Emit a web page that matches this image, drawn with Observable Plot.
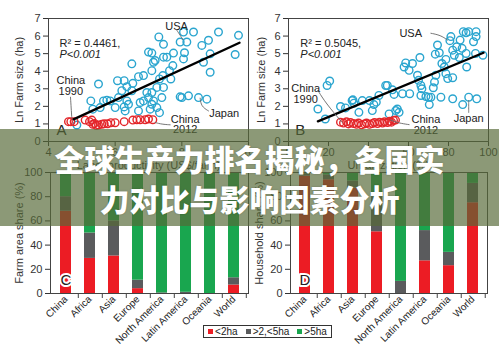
<!DOCTYPE html>
<html><head><meta charset="utf-8">
<script src="https://cdn.jsdelivr.net/npm/d3@7"></script>
<script src="https://cdn.jsdelivr.net/npm/@observablehq/plot@0.6"></script>
<style>
body{margin:0;background:#fff;}
#root{position:relative;width:499px;height:356px;overflow:hidden;background:#fff;font-family:"Liberation Sans",Arial,sans-serif;}
.panel{position:absolute;}
#legend{position:absolute;left:203px;top:325px;width:127px;height:11px;border:1px solid #333;background:#fff;display:flex;align-items:center;justify-content:center;font-size:10px;color:#222;line-height:11px;white-space:nowrap;}
#legend .item{display:flex;align-items:center;margin:0 4px;}
#legend .sw{display:inline-block;width:5px;height:5px;margin-right:2px;}
#banner{position:absolute;left:0;top:129px;width:499px;height:97px;background:rgba(85,105,55,0.68);}
#title{position:absolute;left:0;top:138px;width:499px;text-align:center;color:#fff;font-family:"Noto Sans CJK SC",sans-serif;font-weight:900;font-size:30px;line-height:40px;text-shadow:0 0 2px rgba(0,0,0,0.25);}
</style>
</head><body>
<div id="root">
  <div id="pA" class="panel" style="left:0;top:0"></div>
  <div id="pB" class="panel" style="left:245px;top:0"></div>
  <div id="pC" class="panel" style="left:0;top:160px"></div>
  <div id="pD" class="panel" style="left:245px;top:160px"></div>
  <div id="legend"></div>
  <div id="banner"></div>
  <div id="title">全球生产力排名揭秘，各国实<br>力对比与影响因素分析</div>
</div>
<script>
// ---------- data ----------
const lnFarmTicks = [0,1,2,3,4,5,6,7];
const laborTicks = [4,6,8,10];
const urbanTicks = [0,20,40,60,80,100];
const shareTicks = [0,20,40,60,80,100];

// Panel A: ln labor productivity vs ln farm size
const countriesA_x = [7.31,8.05,8.35,9.10,9.70,9.60,7.95,8.15,8.60,8.80,8.85,8.65,8.85,7.45,7.75,8.08,8.05,7.00,7.10,7.15,7.20,7.45,7.55,6.50,7.63,7.73,7.67,7.10,7.25,7.33,7.43,7.45,7.40,6.85,6.70,6.53,6.50,6.35,6.20,6.07,5.50,5.85,5.65,5.27,5.33,5.75,5.55,6.10,6.35,6.40,6.27,6.30,6.70,6.75,7.00,7.10,7.25,7.05,7.33,6.95,7.10,7.95,8.00,8.20,8.50,8.75,4.85,6.00,6.85,7.15,6.27];
const countriesA_y = [5.95,6.23,6.23,6.23,6.04,4.95,5.66,5.66,5.47,5.76,4.99,4.51,3.94,5.53,5.03,5.05,4.70,5.09,5.03,4.51,4.61,4.80,4.80,4.42,4.03,4.32,3.56,4.03,3.08,3.56,3.75,3.08,2.50,3.75,3.69,3.31,2.89,3.12,2.89,3.46,3.27,2.31,2.31,2.31,1.84,2.35,1.93,2.50,2.31,2.12,1.97,1.74,1.74,2.22,2.50,2.12,1.93,1.84,1.64,2.79,2.79,2.54,2.50,2.60,2.50,2.41,0.94,1.93,2.31,2.31,3.46];
const chinaA_x = [4.60,4.67,4.77,5.10,5.23,5.30,5.33,5.38,5.43,5.50,5.60,5.67,5.77,5.87,6.00,6.27,6.53,6.65,6.75,6.90,7.00,7.13];
const chinaA_y = [1.13,1.13,1.13,1.22,1.13,1.22,0.98,1.03,0.92,0.94,0.98,1.01,1.01,1.07,1.07,1.13,1.22,1.24,1.24,1.24,1.28,1.24];
const fitA_x = [4.75, 9.73];
const fitA_y = [1.26, 5.62];

// Panel B: urbanization vs ln farm size
const countriesB_x = [14.7,18.4,19.3,20.6,26.0,28.5,31.8,32.2,32.7,35.2,36.9,40.5,41.9,42.7,43.9,45.2,49.4,52.0,52.8,53.6,54.4,55.3,57.0,60.6,57.8,58.6,60.3,62.0,65.7,64.5,65.0,66.2,66.7,66.2,68.7,70.0,71.2,70.4,72.4,73.0,73.7,73.4,74.5,75.4,76.7,77.9,78.7,78.7,79.6,80.7,81.2,82.1,82.9,84.1,85.8,86.8,87.4,88.8,90.1,92.5,93.8,93.8,93.5,97.2,88.8,89.1,85.4,82.1,76.2,82.1,87.1,90.1,94.1,48.6,50.3];
const countriesB_y = [1.85,1.28,3.19,3.44,1.99,1.91,2.33,2.37,2.18,1.66,2.33,2.33,1.76,2.10,2.24,2.62,3.19,2.94,2.68,1.76,1.85,1.66,2.72,2.72,4.24,4.47,4.05,4.44,4.78,3.77,3.48,3.19,3.00,2.62,2.56,2.52,2.52,2.10,3.06,3.38,3.77,4.97,5.49,5.05,4.44,4.24,4.67,3.86,3.58,5.74,5.97,5.20,4.91,5.39,5.77,5.30,6.25,6.19,6.25,5.68,6.25,5.97,5.01,4.91,5.01,4.24,4.78,3.63,2.52,2.43,2.10,2.52,2.43,3.19,1.57];
const chinaB_x = [26.0,27.5,29.0,30.0,31.0,32.5,34.0,35.0,36.5,38.0,39.0,40.5,42.0,43.0,44.5,45.5,47.0,48.0,49.5,50.5,51.5,52.5,53.5];
const chinaB_y = [1.10,1.05,1.12,1.00,1.08,1.02,0.98,1.05,0.95,1.00,1.05,0.98,1.02,1.08,1.02,1.10,1.05,1.12,1.08,1.15,1.10,1.20,1.22];
const fitB_x = [14.7, 97.5];
const fitB_y = [1.15, 5.05];

// Panels C & D: size-class shares by region
const regions = ["China","Africa","Asia","Europe","North America","Latin America","Oceania","World"];
const sizeClasses = ["<2ha", ">2,<5ha", ">5ha"];
const farmAreaSmall  = [68, 29, 31, 4, 0, 0, 0, 7];
const farmAreaMedium = [12, 21, 29, 7, 0.5, 1, 0, 6];
const farmAreaLarge  = [20, 50, 40, 89, 99.5, 99, 100, 87];
const householdSmall  = [97, 94, 87, 51, 0, 27, 23, 75];
const householdMedium = [2, 4, 6, 29, 10, 25, 11, 16];
const householdLarge  = [1, 2, 7, 20, 90, 48, 66, 9];

// annotations (data coordinates)
const annotA_label = ["USA","China\n1990","Japan","China\n2012"];
const annotA_x = [7.84, 4.67, 9.27, 8.10];
const annotA_y = [6.56, 3.14, 1.59, 0.95];
const leaderA = [
  [[7.85,6.33],[7.95,6.05],[8.03,5.80]],
  [[4.66,2.52],[4.68,1.90],[4.70,1.32]],
  [[8.55,2.47],[8.58,2.00],[8.80,1.74]],
  [[7.20,1.08],[7.40,0.98],[7.65,0.95]]
];
const annotB_label = ["USA","China\n1990","Japan","China\n2012"];
const annotB_x = [61.1, 8.6, 90.1, 68.7];
const annotB_y = [6.16, 2.70, 1.28, 0.92];
const leaderB = [
  [[71.2,6.16],[76.0,6.05],[79.6,5.77]],
  [[14.7,2.91],[18.5,2.20],[26.8,1.09]],
  [[90.1,2.33],[90.1,2.00],[90.1,1.66]],
  [[51.1,1.22],[55.0,1.05],[60.3,0.96]]
];
const statsA = ["R² = 0.4461,", "P<0.001"];
const statsB = ["R² = 0.5045,", "P<0.001"];

// ---------- styles ----------
const blue = "#2aa5cf", redDot = "#e3262a";
const barColors = ["#ec1c24", "#5a5b5d", "#19a64f"];
const baseStyle = {fontFamily: "Liberation Sans, Arial, sans-serif", fontSize: "11px", color: "#333", background: "transparent", overflow: "visible"};

const zip = (xs, ys) => xs.map((x, i) => ({x, y: ys[i]}));
const leaderRows = L => L.flatMap((seg, k) => seg.map(([x, y]) => ({x, y, k})));

function scatter({cx, cy, chx, chy, fx, fy, xDomain, xTicks, xLabel, labels, lx, ly, leaders, stats, statX, letter, letterX, width, ml, mr, yLabelOffset}) {
  const ann = labels.map((t, i) => ({t, x: lx[i], y: ly[i]}));
  return Plot.plot({
    width, height: 175, marginLeft: ml, marginRight: mr, marginTop: 18, marginBottom: 34,
    style: baseStyle,
    x: {domain: xDomain, ticks: xTicks, tickFormat: d => String(d), label: xLabel, labelAnchor: "center", labelArrow: "none", labelOffset: 27, tickSize: 5, tickPadding: 2},
    y: {domain: [0, 7], ticks: lnFarmTicks, tickFormat: d => String(d), label: "Ln Farm size (ha)", labelAnchor: "center", labelArrow: "none", labelOffset: yLabelOffset, tickSize: 5, tickPadding: 3},
    marks: [
      Plot.frame({stroke: "#444"}),
      Plot.dot(zip(cx, cy), {x: "x", y: "y", r: 3.8, stroke: blue, strokeWidth: 1.4}),
      Plot.dot(zip(chx, chy), {x: "x", y: "y", r: 3.8, stroke: redDot, strokeWidth: 1.4}),
      Plot.line(zip(fx, fy), {x: "x", y: "y", stroke: "#000", strokeWidth: 2.4}),
      Plot.line(leaderRows(leaders), {x: "x", y: "y", z: "k", stroke: "#666", strokeWidth: 0.9, curve: "basis"}),
      Plot.text(ann, {x: "x", y: "y", text: "t", fill: "#222", fontSize: 11, lineHeight: 0.95}),
      Plot.text([stats[0]], {x: () => statX, y: () => 5.56, text: d => d, textAnchor: "start", fill: "#222", fontSize: 11}),
      Plot.text([stats[1]], {x: () => statX, y: () => 4.95, text: d => d, textAnchor: "start", fill: "#222", fontSize: 11, fontStyle: "italic"}),
      Plot.text([letter], {x: () => letterX, y: () => 0.62, text: d => d, textAnchor: "start", fill: "#222", fontSize: 15})
    ]
  });
}

document.getElementById("pA").append(scatter({
  cx: countriesA_x, cy: countriesA_y, chx: chinaA_x, chy: chinaA_y, fx: fitA_x, fy: fitA_y,
  xDomain: [4, 10], xTicks: laborTicks, xLabel: "Labor productivity (US$/farm)",
  labels: annotA_label, lx: annotA_x, ly: annotA_y, leaders: leaderA, stats: statsA, statX: 4.33,
  letter: "A", letterX: 4.24, width: 250, ml: 48, mr: 2, yLabelOffset: 33
}));
document.getElementById("pB").append(scatter({
  cx: countriesB_x, cy: countriesB_y, chx: chinaB_x, chy: chinaB_y, fx: fitB_x, fy: fitB_y,
  xDomain: [0, 100], xTicks: urbanTicks, xLabel: "Urbanization (%)",
  labels: annotB_label, lx: annotB_x, ly: annotB_y, leaders: leaderB, stats: statsB, statX: 5.9,
  letter: "B", letterX: 3.4, width: 254, ml: 43, mr: 11, yLabelOffset: 31
}));

function bars({small, medium, large, yLabel, letter, width, ml, mr}) {
  const rows = regions.flatMap((r, i) => [
    {region: r, size: sizeClasses[0], value: small[i]},
    {region: r, size: sizeClasses[1], value: medium[i]},
    {region: r, size: sizeClasses[2], value: large[i]}
  ]);
  const innerW = width - ml - mr;
  const step = innerW / (regions.length - 0.55 + 0.6);
  return Plot.plot({
    width, height: 196, marginLeft: ml, marginRight: mr, marginTop: 12, marginBottom: 63,
    style: baseStyle,
    x: {domain: regions, paddingInner: 0.55, paddingOuter: 0.3, label: null},
    y: {domain: [0, 100], ticks: shareTicks, tickFormat: d => String(d), label: yLabel, labelAnchor: "center", labelArrow: "none", labelOffset: 35, tickSize: 5, tickPadding: 3},
    color: {domain: sizeClasses, range: barColors},
    marks: [
      Plot.barY(rows, {x: "region", y: "value", fill: "size"}),
      Plot.axisX({tickSize: 5, text: null, dx: step / 2, stroke: "#444"}),
      Plot.axisX({tickSize: 0, tickRotate: -45, tickPadding: 4, fontSize: 10, fill: "#222"}),
      Plot.frame({stroke: "#444"}),
      Plot.text([letter], {x: () => regions[0], frameAnchor: "bottom", dy: -9, text: d => d, fontSize: 15, fill: "#222", stroke: "#fff", strokeWidth: 4})
    ]
  });
}

document.getElementById("pC").append(bars({
  small: farmAreaSmall, medium: farmAreaMedium, large: farmAreaLarge,
  yLabel: "Farm area share (%)", letter: "C", width: 250, ml: 50, mr: 2
}));
document.getElementById("pD").append(bars({
  small: householdSmall, medium: householdMedium, large: householdLarge,
  yLabel: "Household share (%)", letter: "D", width: 254, ml: 45, mr: 12
}));

// legend built from the same size classes and colours as the bars
const legendEl = document.getElementById("legend");
sizeClasses.forEach((label, i) => {
  const item = document.createElement("span");
  item.className = "item";
  const sw = document.createElement("span");
  sw.className = "sw";
  sw.style.background = barColors[i];
  item.append(sw, document.createTextNode(label));
  legendEl.append(item);
});
</script>
</body></html>
